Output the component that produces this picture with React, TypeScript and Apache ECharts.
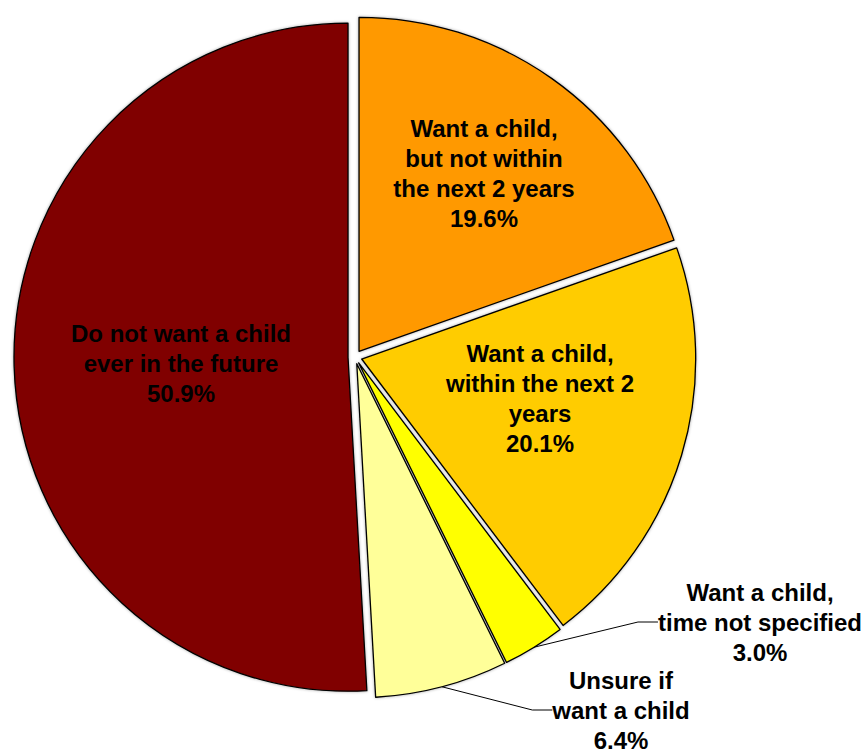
import React, { useEffect, useRef } from "react";
import * as echarts from "echarts";

const categories = [
  "Want a child,\nbut not within\nthe next 2 years",
  "Want a child,\nwithin the next 2\nyears",
  "Want a child,\ntime not specified",
  "Unsure if\nwant a child",
  "Do not want a child\never in the future",
];
const values = [19.6, 20.1, 3.0, 6.4, 50.9];
const colors = ["#FF9900", "#FFCC00", "#FFFF00", "#FFFF99", "#800000"];
const outsideLabel = [false, false, true, true, false];

// label anchor positions (layout only)
const labelPos: [number, number][] = [
  [484, 173],
  [540, 398],
  [760, 622],
  [621, 710],
  [181, 363],
];

const CX = 355;
const CY = 357;
const R = 334;
const EXPLODE = 7;

export default function App() {
  const ref = useRef<HTMLDivElement>(null);
  useEffect(() => {
    if (!ref.current) return;
    const chart = echarts.init(ref.current, null, { renderer: "svg" });
    const total = values.reduce((a, b) => a + b, 0);
    let cum = 0;
    const series = values.map((v, k) => {
      const mid = ((cum + v / 2) / total) * 2 * Math.PI;
      cum += v;
      const cx = CX + EXPLODE * Math.sin(mid);
      const cy = CY - EXPLODE * Math.cos(mid);
      const data = categories.map((name, i) => {
        const visible = i === k;
        return {
          name,
          value: values[i],
          itemStyle: visible
            ? { color: colors[i] }
            : { color: "rgba(0,0,0,0)", borderWidth: 0, shadowBlur: 0 },
          label: visible
            ? { show: true, position: outsideLabel[i] ? "outside" : "inside" }
            : { show: false },
          labelLine: { show: visible && outsideLabel[i] },
        };
      });
      return {
        type: "pie",
        center: [cx, cy],
        radius: R,
        startAngle: 90,
        clockwise: true,
        avoidLabelOverlap: false,
        emphasis: { disabled: true },
        itemStyle: {
          borderColor: "#000",
          borderWidth: 1.3,
          shadowBlur: 3,
          shadowColor: "rgba(0,0,0,0.35)",
        },
        label: {
          color: "#000",
          fontFamily: "Liberation Sans, Arial, sans-serif",
          fontWeight: "bold",
          fontSize: 24,
          lineHeight: 30,
          align: "center",
          formatter: (p: any) => p.name + "\n" + Number(p.value).toFixed(1) + "%",
        },
        labelLine: {
          length: 20,
          length2: 20,
          lineStyle: { color: "#000", width: 1 },
        },
        labelLayout: (params: any) => {
          const pos = labelPos[params.dataIndex];
          return {
            x: pos[0],
            y: pos[1],
            align: "center",
            verticalAlign: "middle",
          };
        },
        data,
      };
    });
    chart.setOption({
      animation: false,
      backgroundColor: "#ffffff",
      series,
    });
    return () => chart.dispose();
  }, []);
  return (
    <div
      ref={ref}
      style={{ position: "fixed", left: 0, top: 0, width: 868, height: 749 }}
    />
  );
}
